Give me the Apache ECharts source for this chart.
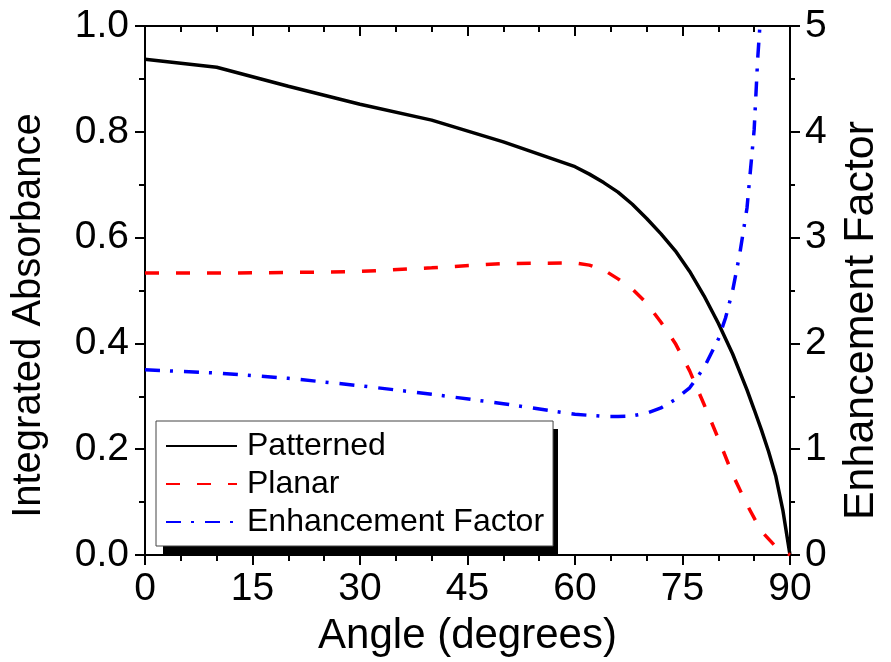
<!DOCTYPE html>
<html>
<head>
<meta charset="utf-8">
<script src="https://cdn.jsdelivr.net/npm/echarts@6/dist/echarts.min.js"></script>
<style>html,body{margin:0;padding:0;background:#fff;overflow:hidden;width:891px;height:662px}#c{position:absolute;left:0;top:0;width:891px;height:662px}</style>
</head>
<body>
<div id="c"></div>
<script>
// Data
const patternedAngles = [0, 10, 20, 30, 40, 50, 60, 62, 64, 66, 68, 70, 72, 74, 76, 78, 80, 82, 84, 85, 86, 87, 88, 89, 90];
const patternedValues = [0.937, 0.922, 0.886, 0.852, 0.822, 0.781, 0.734, 0.720, 0.704, 0.686, 0.663, 0.636, 0.607, 0.575, 0.536, 0.490, 0.438, 0.380, 0.312, 0.275, 0.237, 0.196, 0.150, 0.085, 0.0];

const planarAngles = [0, 10, 20, 30, 40, 50, 60, 62, 64, 66, 68, 70, 72, 74, 76, 78, 80, 82, 84, 86, 88, 90];
const planarValues = [0.533, 0.533, 0.534, 0.536, 0.543, 0.551, 0.552, 0.548, 0.539, 0.522, 0.503, 0.476, 0.440, 0.400, 0.348, 0.285, 0.220, 0.152, 0.095, 0.045, 0.016, 0.0];

const enhAngles = [0, 10, 20, 30, 40, 50, 60, 62, 64, 66, 68, 70, 72, 74, 76, 78, 80, 81, 82, 83, 84, 85, 85.5, 86];
const enhValues = [1.75, 1.72, 1.67, 1.60, 1.52, 1.43, 1.33, 1.32, 1.31, 1.31, 1.315, 1.34, 1.39, 1.47, 1.58, 1.77, 2.04, 2.24, 2.50, 2.85, 3.28, 4.02, 4.70, 5.20];

const xTicks = [0, 15, 30, 45, 60, 75, 90];
const leftTicks = [0.0, 0.2, 0.4, 0.6, 0.8, 1.0];
const rightTicks = [0, 1, 2, 3, 4, 5];

const seriesNames = ['Patterned', 'Planar', 'Enhancement Factor'];
const FONT = '"Liberation Sans", Arial, sans-serif';

const pairs = (xs, ys) => xs.map((x, i) => [x, ys[i]]);

const axisLine = { show: true, onZero: false, lineStyle: { color: '#000', width: 2 } };
const tickOut = { show: true, inside: false, length: 10, lineStyle: { color: '#000', width: 2 } };
const minorOut = (n) => ({ show: true, splitNumber: n, length: 6, lineStyle: { color: '#000', width: 2 } });

const chart = echarts.init(document.getElementById('c'), null, { renderer: 'canvas', width: 891, height: 662 });
chart.setOption({
  animation: false,
  backgroundColor: '#fff',
  textStyle: { fontFamily: FONT },
  grid: { left: 145, right: 91, top: 26, bottom: 107, containLabel: false },
  // solid drop shadow behind the legend frame
  graphic: [{ type: 'rect', z: 3, shape: { x: 163, y: 429, width: 395, height: 126 }, style: { fill: '#000' }, silent: true }],
  xAxis: [
    {
      type: 'value', position: 'bottom', min: xTicks[0], max: xTicks[xTicks.length - 1],
      interval: xTicks[1] - xTicks[0],
      axisLine, axisTick: tickOut, minorTick: minorOut(3),
      splitLine: { show: false }, minorSplitLine: { show: false },
      axisLabel: { fontSize: 39, color: '#000', fontFamily: FONT, margin: 15 },
      name: 'Angle (degrees)', nameLocation: 'middle', nameGap: 60,
      nameTextStyle: { fontSize: 42, color: '#000', fontFamily: FONT }
    },
    {
      type: 'value', position: 'top', min: xTicks[0], max: xTicks[xTicks.length - 1],
      interval: xTicks[1] - xTicks[0],
      axisLine, axisTick: Object.assign({}, tickOut, { inside: true }),
      minorTick: minorOut(3),
      axisLabel: { show: false }, splitLine: { show: false }
    }
  ],
  yAxis: [
    {
      type: 'value', position: 'left', min: leftTicks[0], max: leftTicks[leftTicks.length - 1],
      interval: 0.2,
      axisLine, axisTick: tickOut, minorTick: minorOut(2),
      splitLine: { show: false },
      axisLabel: { fontSize: 39, color: '#000', fontFamily: FONT, margin: 16, formatter: v => v.toFixed(1) },
      name: 'Integrated Absorbance', nameLocation: 'middle', nameGap: 96, nameRotate: 90,
      nameTextStyle: { fontSize: 40, color: '#000', fontFamily: FONT, padding: [0, 50, 0, 0] }
    },
    {
      type: 'value', position: 'right', min: rightTicks[0], max: rightTicks[rightTicks.length - 1],
      interval: 1,
      axisLine, axisTick: tickOut, minorTick: Object.assign(minorOut(2), { length: 5 }),
      splitLine: { show: false },
      axisLabel: { fontSize: 39, color: '#000', fontFamily: FONT, margin: 15 },
      name: 'Enhancement Factor', nameLocation: 'middle', nameGap: 50, nameRotate: 90,
      nameTextStyle: { fontSize: 43, color: '#000', fontFamily: FONT, padding: [0, 60, 0, 0] }
    }
  ],
  legend: {
    orient: 'vertical', left: 156, top: 421, z: 4,
    padding: [9, 9, 8, 9], itemWidth: 71, itemHeight: 14, itemGap: 6,
    backgroundColor: '#fff', borderColor: '#444', borderWidth: 1, borderRadius: 0,
    itemStyle: { color: 'rgba(0,0,0,0)', borderWidth: 0, opacity: 0 },
    textStyle: { fontSize: 32, color: '#000', fontFamily: FONT, lineHeight: 30, padding: [0, 0, 0, 5] },
    data: seriesNames
  },
  series: [
    {
      name: seriesNames[0], type: 'line', xAxisIndex: 0, yAxisIndex: 0,
      data: pairs(patternedAngles, patternedValues), symbol: 'none', clip: true,
      lineStyle: { color: '#000', width: 3.5, type: 'solid' }, itemStyle: { color: '#000' }
    },
    {
      name: seriesNames[1], type: 'line', xAxisIndex: 0, yAxisIndex: 0,
      data: pairs(planarAngles, planarValues), symbol: 'none', clip: true,
      lineStyle: { color: '#ff0000', width: 3.5, type: [14, 17], cap: 'butt' }, itemStyle: { color: '#ff0000' }
    },
    {
      name: seriesNames[2], type: 'line', xAxisIndex: 0, yAxisIndex: 1,
      data: pairs(enhAngles, enhValues), symbol: 'none', clip: true,
      lineStyle: { color: '#0000ff', width: 3.5, type: [15, 10, 3, 11], cap: 'butt' }, itemStyle: { color: '#0000ff' }
    }
  ]
});
</script>
</body>
</html>
